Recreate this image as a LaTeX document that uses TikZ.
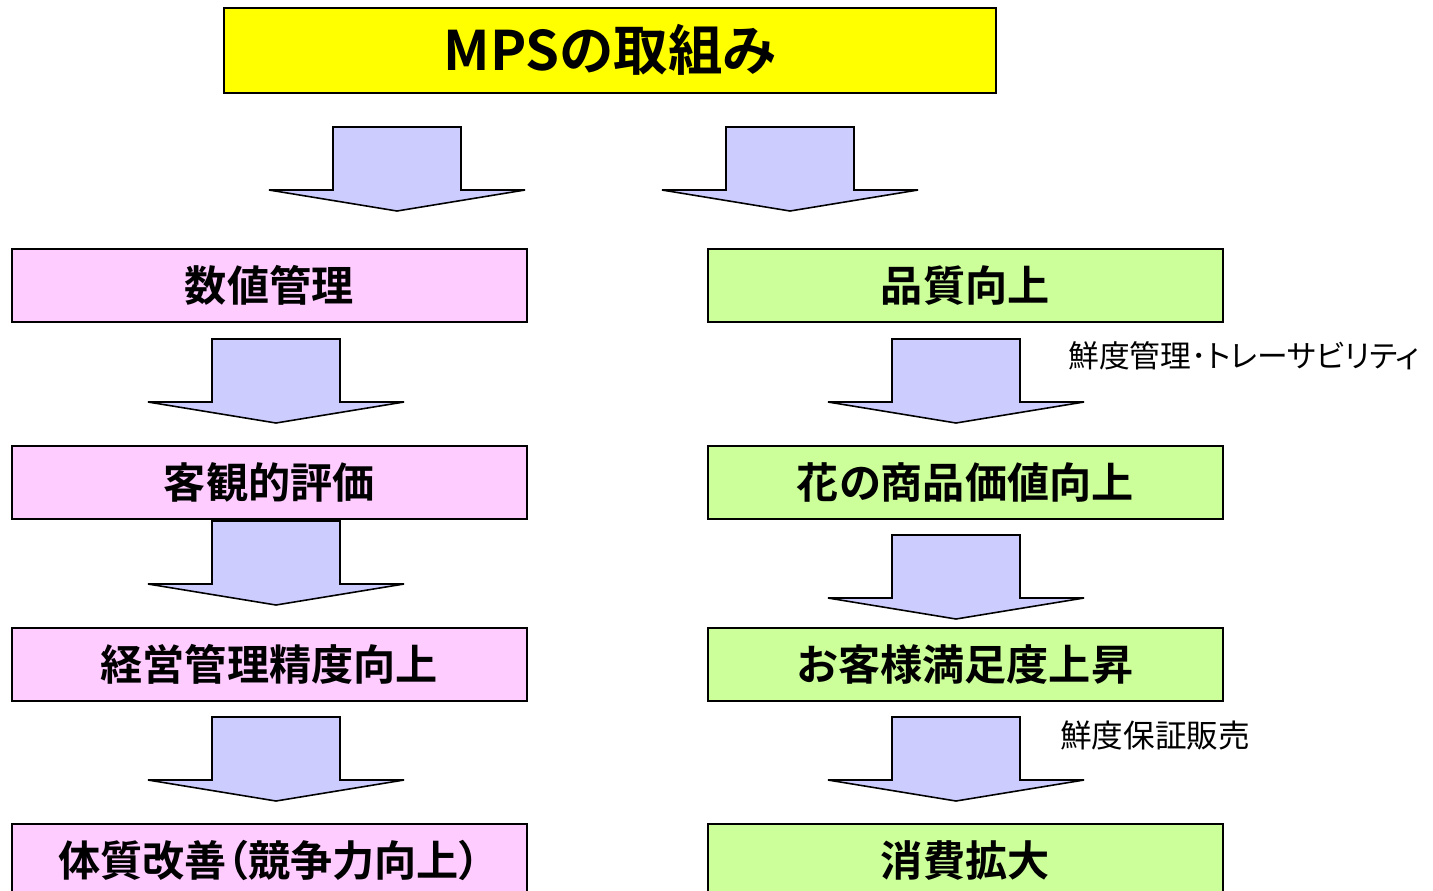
\documentclass[tikz,border=0pt]{standalone}
\usepackage{fontspec}
\setmainfont{Noto Sans CJK JP}[RawFeature=+palt]
\newfontfamily\jpbold{Noto Sans CJK JP Bold}[RawFeature=+palt]
\definecolor{titley}{HTML}{FFFF00}
\definecolor{pinkbox}{HTML}{FFCCFF}
\definecolor{greenbox}{HTML}{CCFF99}
\definecolor{arrowfill}{HTML}{CCCCFF}
\tikzset{
  boxbase/.style={draw=black, line width=0.9pt, anchor=north west, inner sep=0pt,
    minimum width=515*0.02cm, minimum height=73*0.02cm, font=\jpbold\fontsize{24}{28}\selectfont},
  pinkstep/.style={boxbase, fill=pinkbox},
  greenstep/.style={boxbase, fill=greenbox},
  titlebox/.style={draw=black, line width=0.9pt, fill=titley, anchor=north west, inner sep=0pt,
    minimum width=772*0.02cm, minimum height=85*0.02cm, font=\jpbold\fontsize{31}{36}\selectfont},
  notelabel/.style={anchor=west, inner sep=0pt, font=\fontsize{18}{22}\selectfont},
  barrow/.pic={
    \draw[line width=0.9pt, fill=arrowfill, line join=miter]
      (-64,0) -- (64,0) -- (64,63) -- (128,63) -- (0,84) -- (-128,63) -- (-64,63) -- cycle;
  }
}
\begin{document}
\begin{tikzpicture}[x=0.02cm, y=-0.02cm]
\useasboundingbox (0,0) rectangle (1433,890);
\clip (0,0) rectangle (1433,890);
\node[titlebox] (title) at (223,7) {MPSの取組み};
% top arrows
\pic at (397,127) {barrow};
\pic at (790,127) {barrow};
% left column
\node[pinkstep] (l1) at (11,248) {数値管理};
\pic at (276,339) {barrow};
\node[pinkstep] (l2) at (11,445) {客観的評価};
\pic at (276,521) {barrow};
\node[pinkstep] (l3) at (11,627) {経営管理精度向上};
\pic at (276,717) {barrow};
\node[pinkstep, minimum height=90*0.02cm] (l4) at (11,823) {\raisebox{0.9ex}{体質改善（競争力向上）}};
% right column
\node[greenstep] (r1) at (707,248) {品質向上};
\pic at (956,339) {barrow};
\node[greenstep] (r2) at (707,445) {花の商品価値向上};
\pic at (956,535) {barrow};
\node[greenstep] (r3) at (707,627) {お客様満足度上昇};
\pic at (956,717) {barrow};
\node[greenstep, minimum height=90*0.02cm] (r4) at (707,823) {\raisebox{0.9ex}{消費拡大}};
% notes
\node[notelabel, font=\fontsize{17.5}{21}\selectfont] (n1) at (1068,356) {鮮度管理･トレーサビリティ};
\node[notelabel] (n2) at (1060,735) {鮮度保証販売};
\end{tikzpicture}
\end{document}
